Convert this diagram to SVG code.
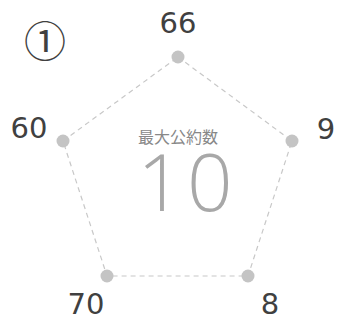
<svg xmlns="http://www.w3.org/2000/svg" width="339" height="323" viewBox="0 0 339 323">
<style>
.lbl{font-family:"DejaVu Sans","Liberation Sans",sans-serif;font-size:29px;fill:#404040;text-anchor:middle}
.dot{fill:#c4c4c4}
.edge{stroke:#c8c8c8;stroke-width:1.2;stroke-dasharray:5 4;fill:none}
</style>
<rect width="339" height="323" fill="#fff"/>
<g id="connectors">
<polygon class="edge" points="178,57 292,141 248,276 107,276 63,141"/>
</g>
<g id="title"><text x="45" y="57" font-family="Noto Sans CJK JP,sans-serif" font-size="42" fill="#404040" text-anchor="middle">①</text></g>
<g id="center">
<text x="178" y="143" font-family="Noto Sans CJK JP,sans-serif" font-size="16" fill="#888" text-anchor="middle">最大公約数</text>
<text x="187" y="211" font-family="Open Sans,sans-serif" font-size="80" font-weight="300" fill="#a8a8a8" text-anchor="middle" letter-spacing="4">10</text>
</g>
<g id="n66"><circle class="dot" cx="178" cy="57" r="6.5"/><text class="lbl" x="178" y="33">66</text></g>
<g id="n9"><circle class="dot" cx="292" cy="141" r="6.5"/><text class="lbl" x="326" y="139">9</text></g>
<g id="n8"><circle class="dot" cx="248" cy="276" r="6.5"/><text class="lbl" x="270" y="314">8</text></g>
<g id="n70"><circle class="dot" cx="107" cy="276" r="6.5"/><text class="lbl" x="86" y="314">70</text></g>
<g id="n60"><circle class="dot" cx="63" cy="141" r="6.5"/><text class="lbl" x="29" y="138">60</text></g>
</svg>
